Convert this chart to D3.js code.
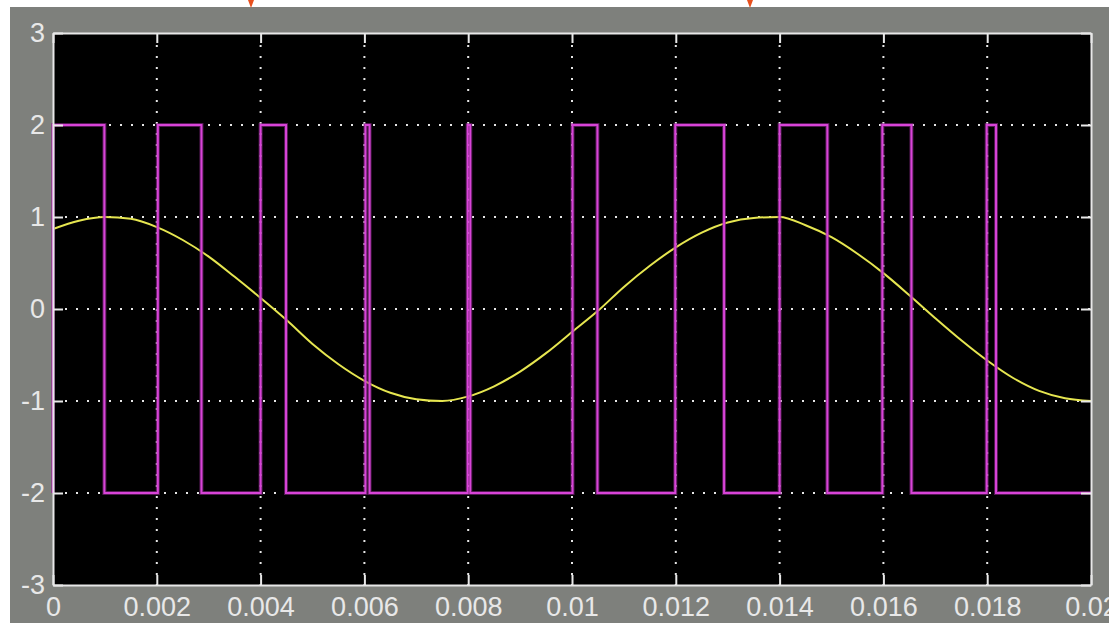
<!DOCTYPE html>
<html>
<head>
<meta charset="utf-8">
<script src="https://cdn.jsdelivr.net/npm/d3@7"></script>
<style>
    body { margin: 0; background: #fff; }
    .tick text { font-family: "Liberation Sans Narrow", "Arial Narrow", "Liberation Sans", sans-serif; font-size: 27px; fill: #e8e8e8; }
</style>
</head>
<body>
<div id="scope"></div>
<script>
// scope data
var xTicks = [0, 0.002, 0.004, 0.006, 0.008, 0.01, 0.012, 0.014, 0.016, 0.018, 0.02];
var xTickLabels = ['0', '0.002', '0.004', '0.006', '0.008', '0.01', '0.012', '0.014', '0.016', '0.018', '0.02'];
var yTicks = [-3, -2, -1, 0, 1, 2, 3];
var yTickLabels = ['-3', '-2', '-1', '0', '1', '2', '3'];

// magenta switching signal (time, level)
var pwmTimes = [0, 0, 0.00099, 0.00202, 0.00286, 0.004, 0.00449, 0.00602, 0.0061, 0.00799, 0.00804,
    0.01001, 0.01049, 0.01199, 0.01293, 0.014, 0.01492, 0.01598, 0.01654, 0.01799, 0.01817, 0.02];
var pwmLevels = [-2, 2, -2, 2, -2, 2, -2, 2, -2, 2, -2,
    2, -2, 2, -2, 2, -2, 2, -2, 2, -2, -2];

// yellow reference wave, sampled every 0.5 ms
var sineTimes = [0, 0.0005, 0.001, 0.0015, 0.002, 0.0025, 0.003, 0.0035, 0.004, 0.0045,
    0.005, 0.0055, 0.006, 0.0065, 0.007, 0.0075, 0.008, 0.0085, 0.009, 0.0095,
    0.01, 0.0105, 0.011, 0.0115, 0.012, 0.0125, 0.013, 0.0135, 0.014, 0.0145,
    0.015, 0.0155, 0.016, 0.0165, 0.017, 0.0175, 0.018, 0.0185, 0.019, 0.0195, 0.02];
var sineValues = [0.87, 0.96, 1.0, 0.98, 0.89, 0.75, 0.57, 0.35, 0.12, -0.12,
    -0.38, -0.6, -0.78, -0.91, -0.98, -1.0, -0.95, -0.84, -0.68, -0.48,
    -0.25, -0.02, 0.24, 0.47, 0.67, 0.83, 0.94, 0.99, 1.0, 0.91,
    0.78, 0.6, 0.39, 0.15, -0.1, -0.34, -0.56, -0.75, -0.89, -0.97, -1.0];

var svgWidth = 1109;
var svgHeight = 623;
var plot = {left: 53, right: 1091, top: 33, bottom: 585};

var svg = d3.select('#scope').append('svg')
    .attr('width', svgWidth)
    .attr('height', svgHeight);

// window frame
svg.append('rect')
    .attr('x', 10).attr('y', 7)
    .attr('width', svgWidth - 10).attr('height', svgHeight - 7)
    .attr('fill', '#7e807c');

// small orange markers along the top edge
[251, 750].forEach(function(cx){
    svg.append('path')
        .attr('d', `M${cx - 3},0 L${cx + 3},0 L${cx},8 Z`)
        .attr('fill', '#e8501e');
});

var xScale = d3.scaleLinear().domain([0, 0.02]).range([plot.left, plot.right]);
var yScale = d3.scaleLinear().domain([-3, 3]).range([plot.bottom, plot.top]);

svg.append('rect')
    .attr('x', plot.left).attr('y', plot.top)
    .attr('width', plot.right - plot.left).attr('height', plot.bottom - plot.top)
    .attr('fill', '#000');

// dotted grid
var grid = svg.append('g')
    .attr('stroke', '#e6e6e6')
    .attr('stroke-width', 2)
    .attr('stroke-dasharray', '2,9');
grid.selectAll('.vgrid')
    .data(xTicks.slice(1, -1))
    .enter()
    .append('line')
    .attr('x1', d => xScale(d)).attr('x2', d => xScale(d))
    .attr('y1', plot.top + 12).attr('y2', plot.bottom);
grid.selectAll('.hgrid')
    .data(yTicks.slice(1, -1))
    .enter()
    .append('line')
    .attr('x1', plot.left + 12).attr('x2', plot.right)
    .attr('y1', d => yScale(d)).attr('y2', d => yScale(d));

// signals
var sineLine = d3.line()
    .x(d => xScale(d[0]))
    .y(d => yScale(d[1]))
    .curve(d3.curveMonotoneX);
svg.append('path')
    .datum(sineTimes.map((t, i) => [t, sineValues[i]]))
    .attr('d', sineLine)
    .attr('fill', 'none')
    .attr('stroke', '#e6e650')
    .attr('stroke-width', 2);

var pwmLine = d3.line()
    .x(d => xScale(d[0]))
    .y(d => yScale(d[1]))
    .curve(d3.curveStepAfter);
svg.append('path')
    .datum(pwmTimes.map((t, i) => [t, pwmLevels[i]]))
    .attr('d', pwmLine)
    .attr('fill', 'none')
    .attr('stroke', '#8a2a8a')
    .attr('stroke-width', 4)
    .attr('opacity', 0.6);
svg.append('path')
    .datum(pwmTimes.map((t, i) => [t, pwmLevels[i]]))
    .attr('d', pwmLine)
    .attr('fill', 'none')
    .attr('stroke', '#d844d8')
    .attr('stroke-width', 2);

// axes, ticks point inward
function styleAxis(g){
    g.select('.domain').attr('stroke', '#e8e8e8').attr('stroke-width', 2);
    g.selectAll('.tick line').attr('stroke', '#e8e8e8').attr('stroke-width', 2);
}

svg.append('g')
    .attr('transform', `translate(0, ${plot.bottom})`)
    .call(d3.axisBottom(xScale).tickValues(xTicks)
        .tickFormat((d, i) => xTickLabels[i])
        .tickSizeInner(-10).tickSizeOuter(0).tickPadding(12))
    .call(styleAxis);

svg.append('g')
    .attr('transform', `translate(${plot.left}, 0)`)
    .call(d3.axisLeft(yScale).tickValues(yTicks)
        .tickFormat((d, i) => yTickLabels[i])
        .tickSizeInner(-10).tickSizeOuter(0).tickPadding(8))
    .call(styleAxis);

svg.append('g')
    .attr('transform', `translate(0, ${plot.top})`)
    .call(d3.axisTop(xScale).tickValues(xTicks).tickFormat('')
        .tickSizeInner(-10).tickSizeOuter(0))
    .call(styleAxis);

svg.append('g')
    .attr('transform', `translate(${plot.right}, 0)`)
    .call(d3.axisRight(yScale).tickValues(yTicks).tickFormat('')
        .tickSizeInner(-10).tickSizeOuter(0))
    .call(styleAxis);

svg.selectAll('.tick text').attr('fill', '#e8e8e8');
</script>
</body>
</html>
